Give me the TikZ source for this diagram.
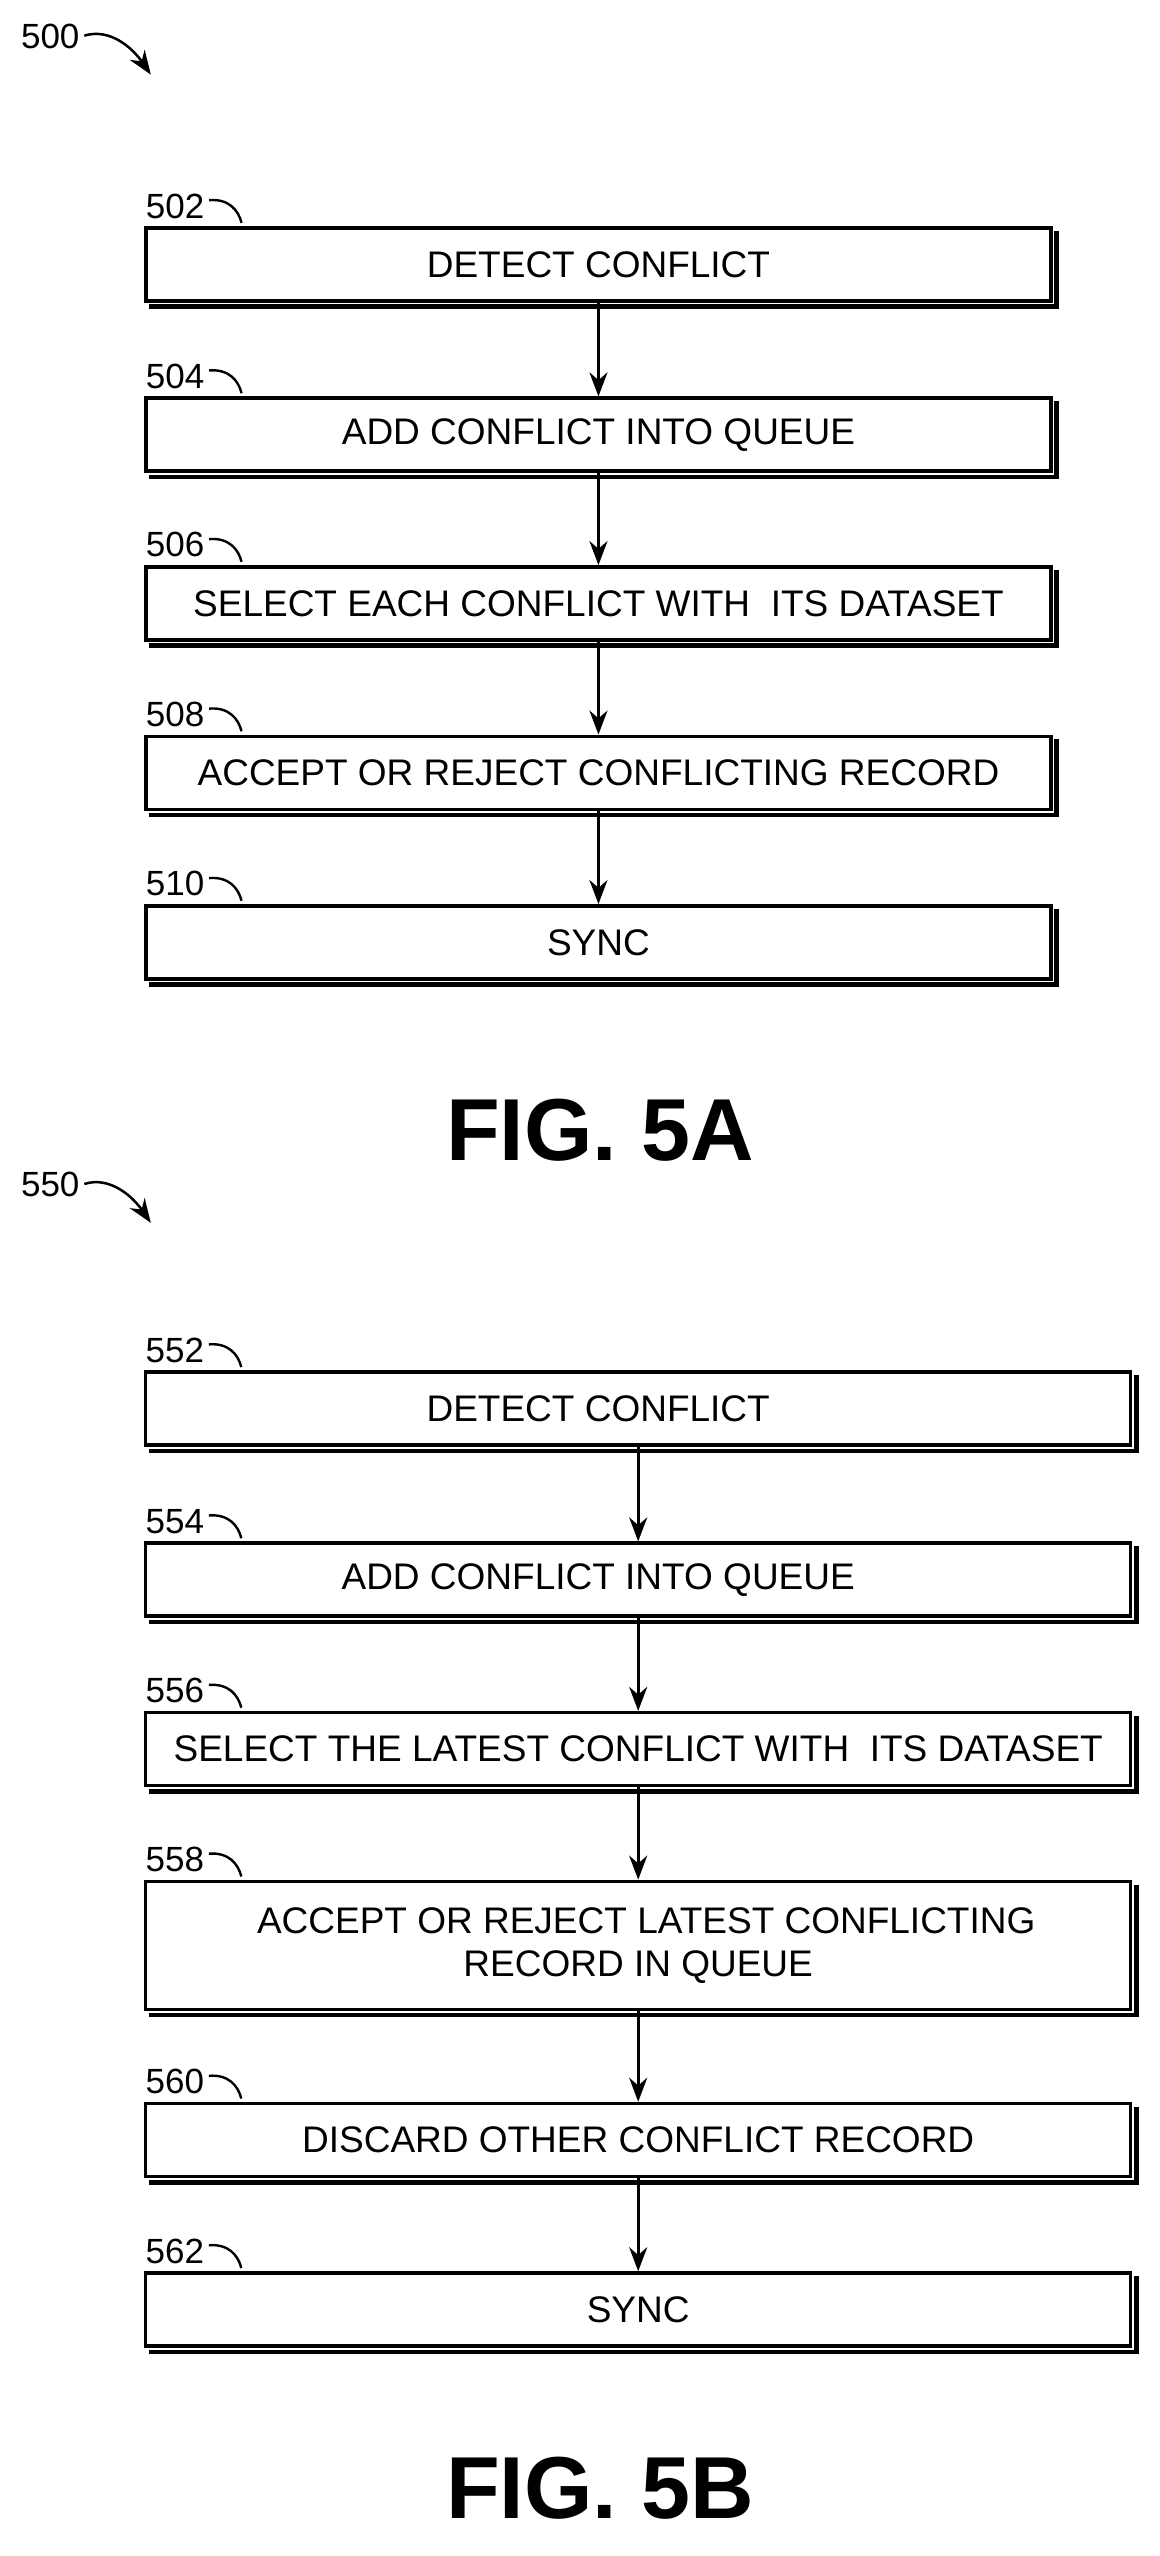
\documentclass[tikz,border=0pt]{standalone}
\usepackage{fontspec}
\setmainfont{Liberation Sans}
\usetikzlibrary{arrows.meta,calc}
\begin{document}
\begin{tikzpicture}[x=1.622pt,y=-1.622pt,
 box/.style={draw,line width=3.5pt,minimum height=73pt,inner sep=0pt,font=\fontsize{37pt}{43pt}\selectfont,align=center},
 boxa/.style={box,minimum width=905pt},
 boxb/.style={box,minimum width=985pt},
 ref/.style={font=\fontsize{35pt}{40pt}\selectfont,anchor=base},
 arr/.style={line width=3pt,-{Stealth[length=24pt,width=18pt]}},
 fig/.style={font=\bfseries\fontsize{88pt}{94pt}\selectfont}]
\useasboundingbox (0,0) rectangle (715,1576);
\newcommand{\shadowbox}[1]{\draw[line width=4.5pt] ($(#1.north east)+(2.5,3)$) -- ($(#1.south east)+(2.5,2.5)$) -- ($(#1.south west)+(3,2.5)$);}
\newcommand{\refl}[3]{\node[ref] (#2) at ($(#1.north west)+(19,-5)$) {#3};
 \draw[line width=2.4pt] ($(#1.north west)+(40,-16)$) .. controls ($(#1.north west)+(52,-17)$) and ($(#1.north west)+(58,-10)$) .. ($(#1.north west)+(60,-2)$);}
% Fig 5A
\node[ref] (l500) at (31,30) {500};
\draw[arr,line width=2.5pt] (52,22) .. controls (68,17) and (82,30) .. (93,46);
\node[boxa] (a1) at (369,163) {DETECT CONFLICT};
\node[boxa] (a2) at (369,268) {ADD CONFLICT INTO QUEUE};
\node[boxa] (a3) at (369,372) {SELECT EACH CONFLICT WITH\ \ ITS DATASET};
\node[boxa] (a4) at (369,476.5) {ACCEPT OR REJECT CONFLICTING RECORD};
\node[boxa] (a5) at (369,581) {SYNC};
\foreach \n in {a1,a2,a3,a4,a5} {\shadowbox{\n}}
\refl{a1}{r502}{502}\refl{a2}{r504}{504}\refl{a3}{r506}{506}\refl{a4}{r508}{508}\refl{a5}{r510}{510}
\draw[arr] (a1) -- (a2); \draw[arr] (a2) -- (a3); \draw[arr] (a3) -- (a4); \draw[arr] (a4) -- (a5);
\node[fig] (f5a) at (370,697) {FIG. 5A};
% Fig 5B
\node[ref] (l550) at (31,738) {550};
\draw[arr,line width=2.5pt] (52,730) .. controls (68,725) and (82,738) .. (93,754);
\node[boxb] (b1) at (393.5,868.5) {\hspace*{-80pt}DETECT CONFLICT};
\node[boxb] (b2) at (393.5,974) {\hspace*{-80pt}ADD CONFLICT INTO QUEUE};
\node[boxb] (b3) at (393.5,1078.5) {SELECT THE LATEST CONFLICT WITH\ \ ITS DATASET};
\node[boxb,minimum height=128pt] (b4) at (393.5,1199.5) {\hspace*{16pt}ACCEPT OR REJECT LATEST CONFLICTING\\RECORD IN QUEUE};
\node[boxb] (b5) at (393.5,1319.5) {DISCARD OTHER CONFLICT RECORD};
\node[boxb] (b6) at (393.5,1424) {SYNC};
\foreach \n in {b1,b2,b3,b4,b5,b6} {\shadowbox{\n}}
\refl{b1}{r552}{552}\refl{b2}{r554}{554}\refl{b3}{r556}{556}\refl{b4}{r558}{558}\refl{b5}{r560}{560}\refl{b6}{r562}{562}
\draw[arr] (b1) -- (b2); \draw[arr] (b2) -- (b3); \draw[arr] (b3) -- (b4); \draw[arr] (b4) -- (b5); \draw[arr] (b5) -- (b6);
\node[fig] (f5b) at (370,1534) {FIG. 5B};
\end{tikzpicture}
\end{document}
